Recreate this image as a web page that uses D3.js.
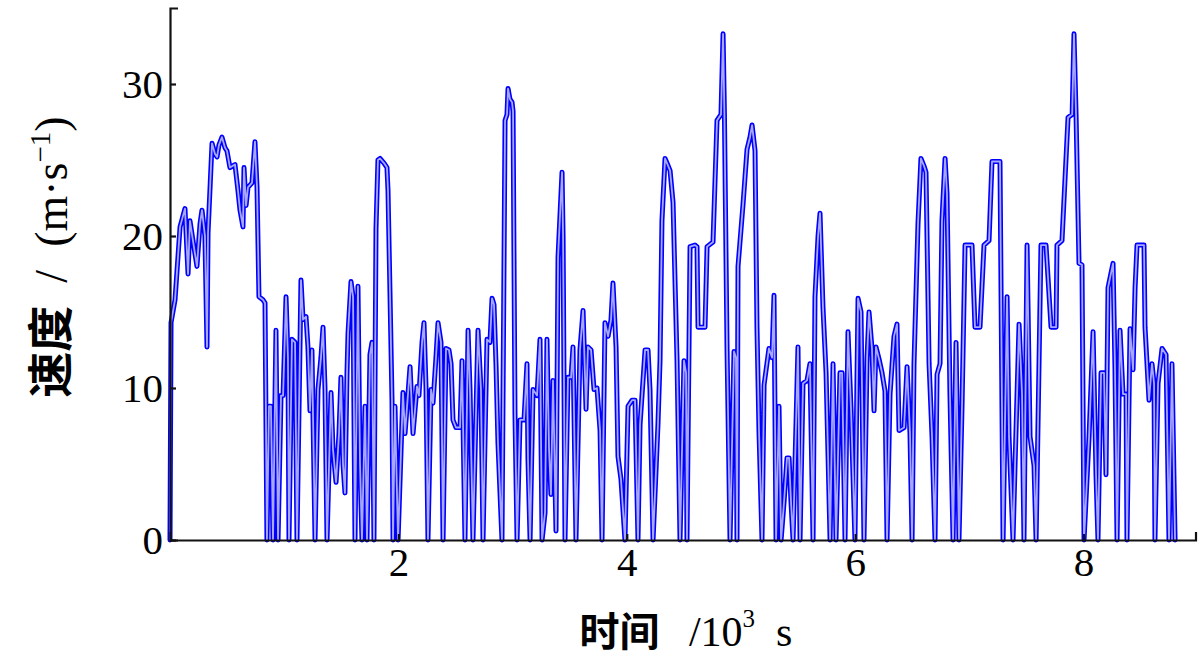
<!DOCTYPE html>
<html>
<head>
<meta charset="utf-8">
<script src="https://cdn.jsdelivr.net/npm/d3@7/dist/d3.min.js"></script>
<style>
  html, body { margin: 0; padding: 0; background: #fff; }
  svg { display: block; }
</style>
</head>
<body>
<svg id="chart" width="1200" height="667"></svg>
<script>
// Speed profile: [time (s), speed (m/s)]
const seg1 = [[0,0],[9,14.3],[44,15.8],[88,20.6],[131,21.8],[158,17.5],[175,21],[201,19.7],[236,18],[263,20.8],[280,21.7],[306,20],[324,12.7],[333,20.2],[368,26.1],[394,25.4],[412,25.2],[429,26],[455,26.5],[482,25.8],[499,25.6],[525,24.5],[569,24.7],[595,23],[613,21.7],[639,20.6],[648,24.5],[666,22],[683,23.2],[718,23.5],[744,26.2],[762,23.2],[779,16],[814,15.8],[832,15.6],[849,0]];
const seg2 = [[867,8.8],[884,8.8],[902,0],[928,13.8],[946,0],[972,9.5],[990,9.5],[1016,16],[1033,12],[1042,0],[1068,13.2],[1095,13],[1112,0],[1147,17.1],[1165,14.5],[1191,14.7],[1208,12.7],[1226,8.5],[1243,12.5],[1270,0],[1296,9.9],[1322,12],[1340,14],[1357,10],[1375,0],[1410,9.7],[1427,6],[1454,3.8],[1480,7],[1497,10.7],[1515,5],[1532,3.1],[1550,11],[1559,13.6],[1585,17],[1603,16],[1620,0],[1646,16.7],[1664,5],[1681,0],[1708,8.8],[1725,0],[1751,12.2],[1769,13],[1786,0],[1804,20.5],[1821,25],[1839,25.1],[1874,24.8],[1900,24.5],[1909,23],[1927,16],[1944,9.2],[1953,0],[1970,8.8],[1997,0],[2040,9.7],[2058,7],[2102,11.4],[2128,7],[2163,10.1],[2180,9.5],[2207,13],[2224,14.3],[2242,10],[2259,0],[2286,9.9],[2303,9],[2329,12],[2347,14.3],[2373,13],[2391,0],[2417,12.6],[2443,12.5],[2461,11.6],[2478,7.9],[2504,7.4],[2540,7.4],[2557,11.8],[2583,0]];
const seg3 = [[2610,13.8],[2627,9.9],[2653,0],[2697,13.8],[2723,9.9],[2741,0],[2776,13.2],[2802,13],[2820,15.9],[2837,15.5],[2855,11.5],[2872,6.4],[2907,0],[2934,27.6],[2951,28],[2960,29.7],[2977,29],[2995,28.8],[3004,28.2],[3021,8.3],[3039,0],[3065,7.9],[3100,7.9],[3126,11.6],[3135,5.3],[3153,0],[3179,9.9],[3214,9.5],[3240,13.2],[3258,0],[3284,1.8],[3301,13.2],[3319,6],[3336,3],[3354,10.5],[3380,0.6],[3398,18.6],[3433,24.2],[3442,20],[3459,0],[3485,10.7],[3512,10.7],[3529,12.7],[3555,0],[3590,12.5],[3617,15.1],[3643,8.6],[3660,12.7],[3687,12.5],[3713,9.9],[3739,10],[3766,7.2],[3783,0],[3809,14.3],[3836,13.4],[3862,14.5],[3879,16.9],[3906,12.7],[3923,5.5],[3949,4],[3984,0],[4011,8.8],[4046,9.2],[4072,9.2],[4098,0],[4116,7.6],[4160,12.5],[4186,12.5],[4203,9.9],[4230,0],[4273,7.6],[4291,11.8],[4308,21],[4335,25.1],[4352,24.8],[4379,24.3],[4405,22.2],[4440,11.8],[4466,0],[4501,11.8],[4519,11],[4527,0],[4554,19.3],[4597,19.4],[4615,19.3],[4624,14],[4685,14],[4703,19.3],[4755,19.6],[4790,27.6],[4825,28],[4843,33.3],[4855,28],[4878,12.5],[4904,0]];
const seg4 = [[4939,12.4],[4956,12],[4965,0],[4974,18],[5018,22.1],[5053,25.7],[5079,26.5],[5097,27.3],[5123,25.6],[5140,14],[5158,7.1],[5184,0],[5202,10.2],[5245,12.6],[5272,12],[5289,16.1],[5307,0],[5333,8.8],[5351,0],[5377,2.5],[5403,5.4],[5421,5.4],[5438,2.5],[5456,0],[5499,12.7],[5517,0],[5543,10.3],[5578,10.5],[5604,11.6],[5631,0],[5648,16],[5675,20],[5692,21.5],[5718,15.3],[5745,11],[5780,0],[5806,11.6],[5832,0],[5867,11],[5885,11],[5911,0],[5937,13.7],[5964,8.5],[5998,0],[6025,15.9],[6051,15],[6077,0],[6104,12],[6121,15],[6147,12.6],[6165,8.5],[6182,12.7],[6209,11.9],[6235,11],[6261,9.8],[6279,0],[6305,9.6],[6340,13.4],[6366,14.2],[6384,7.2],[6428,7.4],[6454,11.4],[6480,7],[6498,0],[6515,11.6],[6550,20.8],[6576,25.1],[6603,24.6],[6620,24.2],[6647,11.6],[6673,6.8],[6699,0],[6717,10.9],[6743,11.6],[6760,21],[6787,25.1],[6804,22.8],[6830,9.6],[6857,0],[6883,13],[6909,0],[6936,9],[6962,19.4],[7023,19.4],[7049,14],[7093,14],[7128,19.4],[7172,19.7],[7198,24.9],[7268,24.9],[7295,0]];
const seg5 = [[7330,16],[7347,6.8],[7382,0],[7400,5],[7435,14.2],[7461,9.6],[7478,0],[7505,19.4],[7531,6.8],[7566,4.9],[7584,0],[7627,19.4],[7671,19.4],[7715,14],[7759,14],[7767,19.4],[7811,19.7],[7864,27.8],[7900,28],[7916,33.3],[7934,28],[7960,18.2],[7986,18.1],[8004,0],[8048,6.8],[8083,13.7],[8109,4.3],[8126,0],[8153,11],[8179,11],[8196,4.3],[8214,16.6],[8258,18.2],[8275,11.3],[8293,0],[8319,13.8],[8345,9.6],[8372,9.6],[8380,0],[8407,13.9],[8433,11.2],[8451,16.6],[8468,19.4],[8529,19.4],[8538,14],[8573,9.2],[8599,11.6],[8617,10.3],[8625,0],[8652,10.3],[8687,12.6],[8722,12.2],[8748,0],[8774,11.6],[8801,0]];

const xTicks = [2000, 4000, 6000, 8000];
const xTickLabels = ["2", "4", "6", "8"];
const yTicks = [0, 10, 20, 30];
const xDomain = [0, 8980];
const yDomain = [0, 35];

const data = [].concat(seg1, seg2, seg3, seg4, seg5);

const svg = d3.select("#chart");
const mLeft = 170, mRight = 1195.5, mTop = 8, mBottom = 540;

const x = d3.scaleLinear().domain(xDomain).range([mLeft, mRight]);
const y = d3.scaleLinear().domain(yDomain).range([mBottom, mTop]);

const lineGen = d3.line().x(d => x(d[0])).y(d => y(d[1]));

svg.append("path")
  .datum(data)
  .attr("d", lineGen)
  .attr("fill", "none")
  .attr("stroke", "#0000ff")
  .attr("stroke-width", 5)
  .attr("stroke-linejoin", "round")
  .attr("stroke-linecap", "round");

svg.append("path")
  .datum(data)
  .attr("d", lineGen)
  .attr("fill", "none")
  .attr("stroke", "#a8a8ff")
  .attr("stroke-width", 1.8)
  .attr("stroke-linejoin", "round")
  .attr("stroke-linecap", "round");

// Axes
const xAxis = d3.axisBottom(x).tickValues(xTicks)
  .tickFormat((d, i) => xTickLabels[i])
  .tickSizeInner(-6).tickSizeOuter(-8).tickPadding(7);
const yAxis = d3.axisLeft(y).tickValues(yTicks)
  .tickFormat(d3.format("d"))
  .tickSizeInner(-6).tickSizeOuter(-8).tickPadding(7);

const gx = svg.append("g").attr("transform", `translate(0,${mBottom})`).call(xAxis);
const gy = svg.append("g").attr("transform", `translate(${mLeft},0)`).call(yAxis);

[gx, gy].forEach(g => {
  g.select(".domain").attr("stroke", "#111").attr("stroke-width", 2.2);
  g.selectAll(".tick line").attr("stroke", "#111").attr("stroke-width", 2.2);
  g.selectAll(".tick text")
    .attr("fill", "#000")
    .style("font-family", "'Liberation Serif', 'DejaVu Serif', serif")
    .style("font-size", "41px");
});

// Y axis title
const yTitle = svg.append("text")
  .attr("transform", "translate(67,257) rotate(-90)")
  .attr("text-anchor", "middle")
  .attr("fill", "#000");
yTitle.append("tspan")
  .style("font-family", "'Noto Sans CJK SC', sans-serif")
  .style("font-weight", "700")
  .style("font-size", "46px")
  .text("速度");
yTitle.append("tspan")
  .style("font-family", "'Liberation Serif', serif")
  .style("font-size", "46px")
  .text("\u2002/\u2002(m·s");
yTitle.append("tspan")
  .style("font-family", "'Liberation Serif', serif")
  .style("font-size", "29px")
  .attr("dy", "-17")
  .text("−1");
yTitle.append("tspan")
  .style("font-family", "'Liberation Serif', serif")
  .style("font-size", "46px")
  .attr("dy", "17")
  .text(")");

// X axis title
const xTitle = svg.append("text")
  .attr("x", 686)
  .attr("y", 646)
  .attr("text-anchor", "middle")
  .attr("fill", "#000");
xTitle.append("tspan")
  .style("font-family", "'Noto Sans CJK SC', sans-serif")
  .style("font-weight", "700")
  .style("font-size", "40px")
  .text("时间");
xTitle.append("tspan")
  .style("font-family", "'Liberation Serif', serif")
  .style("font-size", "42px")
  .text("\u2002\u2009/10");
xTitle.append("tspan")
  .style("font-family", "'Liberation Serif', serif")
  .style("font-size", "25px")
  .attr("dy", "-19")
  .text("3");
xTitle.append("tspan")
  .style("font-family", "'Liberation Serif', serif")
  .style("font-size", "42px")
  .attr("dy", "19")
  .text("\u2002s");
</script>
</body>
</html>
